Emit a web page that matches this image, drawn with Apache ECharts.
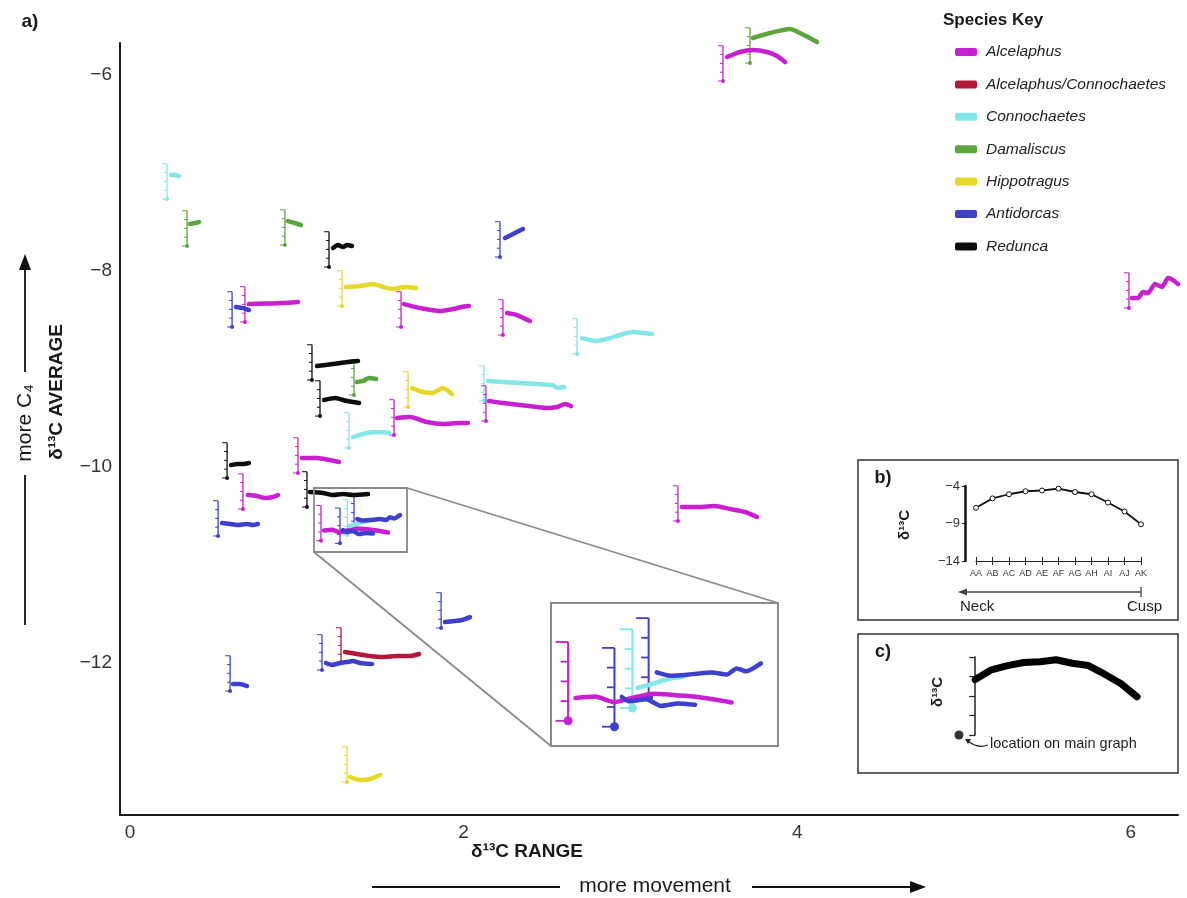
<!DOCTYPE html>
<html><head><meta charset="utf-8">
<script src="https://cdn.jsdelivr.net/npm/echarts@6/dist/echarts.min.js"></script>
<style>html,body{margin:0;padding:0;background:#fff}#c{width:1187px;height:898px}</style>
</head><body><div id="c"></div>
<script>
// ---------------- DATA ----------------
const species = ['Alcelaphus','Alcelaphus/Connochaetes','Connochaetes','Damaliscus','Hippotragus','Antidorcas','Redunca'];
const speciesColors = ['#c81fd1','#b3183a','#84e6e6','#5ba63c','#e6d826','#3d3fce','#0d0d0d'];
const xTicks = [0, 2, 4, 6];
const yTicks = [-6, -8, -10, -12];

// each glyph: species index, anchor = (d13C range, d13C average), and its drawn profile trace
const glyphSpecies = [2,3,3,6,4,5,0,0,0,2,5,6,3,6,4,2,0,2,0,0,6,0,5,6,0,5,2,5,5,5,1,4,0,3,0,0,5];
const glyphRange = [0.222,0.342,0.929,1.193,1.271,0.612,0.689,1.625,2.236,2.680,2.218,1.091,1.343,1.139,1.667,2.122,2.134,1.313,1.583,1.007,0.582,0.677,0.528,1.061,1.145,1.259,1.303,1.343,0.600,1.151,1.265,1.301,3.555,3.717,5.989,3.285,1.865];
const glyphAverage = [-7.265,-7.745,-7.735,-7.959,-8.357,-8.571,-8.520,-8.571,-8.653,-8.847,-7.857,-9.112,-9.265,-9.480,-9.388,-9.327,-9.531,-9.806,-9.673,-10.061,-10.112,-10.429,-10.704,-10.408,-10.752,-10.779,-10.694,-10.643,-12.286,-12.071,-12.000,-13.214,-6.061,-5.878,-8.378,-10.551,-11.643];
const glyphTraces = [
 [[0.246,-7.020],[0.270,-7.020],[0.294,-7.031]],
 [[0.360,-7.520],[0.390,-7.510],[0.414,-7.500]],
 [[0.947,-7.490],[0.989,-7.510],[1.025,-7.531]],
 [[1.217,-7.765],[1.247,-7.735],[1.277,-7.755],[1.301,-7.735],[1.331,-7.745]],
 [[1.295,-8.163],[1.379,-8.153],[1.457,-8.133],[1.517,-8.163],[1.577,-8.184],[1.649,-8.163],[1.715,-8.173]],
 [[0.635,-8.367],[0.677,-8.378],[0.713,-8.398]],
 [[0.713,-8.337],[0.809,-8.332],[0.911,-8.327],[1.007,-8.316]],
 [[1.643,-8.337],[1.739,-8.378],[1.859,-8.408],[1.936,-8.388],[1.990,-8.367],[2.032,-8.357]],
 [[2.260,-8.429],[2.320,-8.449],[2.398,-8.510]],
 [[2.710,-8.684],[2.800,-8.714],[2.878,-8.684],[2.956,-8.643],[3.016,-8.622],[3.076,-8.633],[3.129,-8.643]],
 [[2.248,-7.663],[2.296,-7.622],[2.356,-7.571]],
 [[1.121,-8.969],[1.217,-8.949],[1.301,-8.929],[1.367,-8.918]],
 [[1.361,-9.133],[1.397,-9.122],[1.433,-9.092],[1.475,-9.102]],
 [[1.163,-9.316],[1.229,-9.296],[1.301,-9.327],[1.373,-9.347]],
 [[1.691,-9.194],[1.757,-9.235],[1.811,-9.245],[1.876,-9.194],[1.930,-9.255]],
 [[2.146,-9.122],[2.236,-9.133],[2.338,-9.143],[2.440,-9.153],[2.530,-9.163],[2.566,-9.194],[2.602,-9.184]],
 [[2.152,-9.327],[2.236,-9.347],[2.338,-9.367],[2.440,-9.388],[2.500,-9.398],[2.560,-9.388],[2.608,-9.357],[2.644,-9.378]],
 [[1.337,-9.694],[1.421,-9.653],[1.499,-9.643],[1.553,-9.653]],
 [[1.601,-9.500],[1.679,-9.490],[1.781,-9.541],[1.876,-9.561],[1.978,-9.551],[2.026,-9.551]],
 [[1.031,-9.908],[1.121,-9.908],[1.199,-9.929],[1.253,-9.949]],
 [[0.606,-9.980],[0.647,-9.969],[0.677,-9.969],[0.713,-9.959]],
 [[0.707,-10.286],[0.761,-10.296],[0.809,-10.316],[0.857,-10.306],[0.887,-10.286]],
 [[0.552,-10.571],[0.600,-10.582],[0.647,-10.592],[0.701,-10.582],[0.737,-10.592],[0.767,-10.582]],
 [[1.079,-10.255],[1.157,-10.265],[1.217,-10.286],[1.277,-10.276],[1.337,-10.286],[1.427,-10.276]],
 [[1.163,-10.648],[1.211,-10.641],[1.259,-10.666],[1.301,-10.648],[1.355,-10.628],[1.433,-10.638],[1.481,-10.648],[1.547,-10.668]],
 [[1.277,-10.643],[1.295,-10.663],[1.337,-10.653],[1.373,-10.684],[1.415,-10.673],[1.457,-10.679]],
 [[1.316,-10.602],[1.355,-10.582],[1.391,-10.561],[1.427,-10.551]],
 [[1.363,-10.531],[1.397,-10.546],[1.439,-10.541],[1.499,-10.531],[1.535,-10.541],[1.559,-10.513],[1.583,-10.526],[1.619,-10.490]],
 [[0.618,-12.214],[0.659,-12.214],[0.701,-12.235]],
 [[1.175,-12.000],[1.211,-12.020],[1.259,-12.000],[1.301,-11.990],[1.337,-11.980],[1.379,-12.000],[1.451,-12.010]],
 [[1.289,-11.888],[1.361,-11.908],[1.439,-11.929],[1.517,-11.939],[1.601,-11.929],[1.679,-11.929],[1.733,-11.908]],
 [[1.319,-13.163],[1.379,-13.194],[1.439,-13.184],[1.499,-13.143]],
 [[3.579,-5.816],[3.657,-5.765],[3.735,-5.745],[3.819,-5.765],[3.879,-5.806],[3.927,-5.867]],
 [[3.735,-5.622],[3.837,-5.571],[3.957,-5.531],[4.017,-5.571],[4.119,-5.663]],
 [[6.007,-8.276],[6.043,-8.276],[6.073,-8.214],[6.103,-8.224],[6.145,-8.133],[6.187,-8.163],[6.223,-8.071],[6.253,-8.092],[6.283,-8.133]],
 [[3.309,-10.408],[3.417,-10.408],[3.507,-10.398],[3.597,-10.429],[3.687,-10.459],[3.759,-10.510]],
 [[1.888,-11.582],[1.948,-11.571],[1.990,-11.561],[2.038,-11.531]]
];
// zoomed region (range x average)
const insetRange = [1.103, 1.661];
const insetAverage = [-10.867, -10.214];
// panel b: example tooth profile
const profileLabels = ['AA','AB','AC','AD','AE','AF','AG','AH','AI','AJ','AK'];
const profileValues = [-6.9,-5.65,-5.1,-4.7,-4.6,-4.35,-4.8,-5.1,-6.2,-7.4,-9.1];
const profileTicks = [-4, -9, -14];
const keyTicks = [-14, -11.5, -9, -6.5, -4];

// ---------------- CHART ----------------
const RULER = 0.36;
const FONT = "'Liberation Sans', Arial, sans-serif";
const NARROW = "'Liberation Sans Narrow', 'Arial Narrow', 'Liberation Sans', Arial, sans-serif";
const minus = v => (v < 0 ? '\u2212' + Math.abs(v) : String(v));
const chart = echarts.init(document.getElementById('c'));

function makeRuler(k) {
  return function (params, api) {
    const x = api.value(0), y = api.value(1), s = api.value(2);
    const col = speciesColors[s];
    const b = api.coord([x, y]);
    const t = api.coord([x, y + RULER]);
    const ch = [{type:'line', shape:{x1:b[0], y1:b[1], x2:t[0], y2:t[1]}, style:{stroke:col, lineWidth:k > 1 ? 2 : 1.3}}];
    for (let j = 0; j < 5; j++) {
      const ty = b[1] + (t[1] - b[1]) * j / 4;
      const len = (j === 0 || j === 4 ? 5 : 3) * k;
      ch.push({type:'line', shape:{x1:b[0] - len, y1:ty, x2:b[0], y2:ty}, style:{stroke:col, lineWidth:k > 1 ? 1.8 : 1}});
    }
    ch.push({type:'circle', shape:{cx:b[0], cy:b[1], r:k > 1 ? 4.5 : 2}, style:{fill:col}});
    return {type:'group', children:ch};
  };
}

const rulerData = glyphRange.map((x, i) => [x, glyphAverage[i], glyphSpecies[i]]);
const inInset = i => glyphRange[i] >= insetRange[0] && glyphRange[i] <= insetRange[1] &&
                    glyphAverage[i] >= insetAverage[0] && glyphAverage[i] <= insetAverage[1];

const series = [];
series.push({type:'custom', name:'rulers', xAxisIndex:0, yAxisIndex:0, data:rulerData,
  renderItem:makeRuler(1), encode:{x:0, y:1}, z:2, silent:true, clip:false});
glyphTraces.forEach((tr, i) => {
  const col = speciesColors[glyphSpecies[i]];
  series.push({type:'line', name:species[glyphSpecies[i]], xAxisIndex:0, yAxisIndex:0, data:tr,
    symbol:'none', clip:false, smooth:0.2, z:3, silent:true,
    lineStyle:{color:col, width:4.5, cap:'round', join:'round'}, itemStyle:{color:col}});
});
// magnified inset
series.push({type:'custom', name:'insetRulers', xAxisIndex:1, yAxisIndex:1,
  data:rulerData.filter((d, i) => inInset(i)), renderItem:makeRuler(2.5), encode:{x:0, y:1}, z:4, silent:true, clip:true});
glyphTraces.forEach((tr, i) => {
  if (!inInset(i)) return;
  const col = speciesColors[glyphSpecies[i]];
  series.push({type:'line', name:species[glyphSpecies[i]], xAxisIndex:1, yAxisIndex:1, data:tr,
    symbol:'none', clip:true, smooth:0.2, z:5, silent:true,
    lineStyle:{color:col, width:4.5, cap:'round', join:'round'}, itemStyle:{color:col}});
});
// panel b
series.push({type:'line', name:'profile', xAxisIndex:2, yAxisIndex:2, data:profileValues,
  symbol:'circle', symbolSize:5, showAllSymbol:true, silent:true, z:5,
  lineStyle:{color:'#111', width:1.8}, itemStyle:{color:'#fff', borderColor:'#111', borderWidth:1}});
// panel c
series.push({type:'line', name:'key', xAxisIndex:4, yAxisIndex:3, data:profileValues.map((v, i) => [i, v]),
  symbol:'none', silent:true, z:5, clip:false, lineStyle:{color:'#000', width:7, cap:'round', join:'round'}});
series.push({type:'scatter', name:'keyDot', xAxisIndex:4, yAxisIndex:3, data:[[-1, -14]],
  symbolSize:9, silent:true, z:6, clip:false, itemStyle:{color:'#000'}});

const option = {
  animation:false,
  backgroundColor:'#fff',
  textStyle:{fontFamily:FONT},
  grid:[
    {left:120, top:43, right:9, bottom:83},
    {left:551, top:603, width:227, height:143, show:true, backgroundColor:'#fff', borderColor:'#8a8a8a', borderWidth:2, z:3},
    {left:976, top:486, width:165, height:75},
    {left:959, top:657, width:178, height:78}
  ],
  xAxis:[
    {type:'value', gridIndex:0, min:-0.06, max:6.283, splitLine:{show:false}, axisTick:{show:false},
     axisLine:{show:true, onZero:false, lineStyle:{color:'#1a1a1a', width:2}},
     axisLabel:{customValues:xTicks, formatter:minus, fontSize:19, color:'#333', fontFamily:NARROW, margin:8}},
    {type:'value', gridIndex:1, min:insetRange[0], max:insetRange[1], show:false},
    {type:'category', gridIndex:2, data:profileLabels, boundaryGap:false,
     axisLine:{lineStyle:{color:'#222', width:1.2}}, axisTick:{show:true, inside:true, length:4, interval:0, lineStyle:{color:'#222'}},
     axisLabel:{fontSize:9, color:'#333', margin:8, interval:0}},
    {type:'category', gridIndex:2, data:profileLabels, boundaryGap:false, position:'bottom',
     axisLine:{show:false}, axisTick:{show:true, length:4, interval:0, lineStyle:{color:'#222'}}, axisLabel:{show:false}},
    {type:'value', gridIndex:3, min:-1, max:10, show:false}
  ],
  yAxis:[
    {type:'value', gridIndex:0, min:-13.551, max:-5.673, splitLine:{show:false}, axisTick:{show:false},
     axisLine:{show:true, onZero:false, lineStyle:{color:'#1a1a1a', width:2}},
     axisLabel:{customValues:yTicks, formatter:minus, fontSize:19, color:'#333', fontFamily:NARROW, margin:8}},
    {type:'value', gridIndex:1, min:insetAverage[0], max:insetAverage[1], show:false},
    {type:'value', gridIndex:2, min:-14, max:-4, offset:11, splitLine:{show:false},
     axisLine:{show:true, lineStyle:{color:'#111', width:2.5}},
     axisTick:{show:true, customValues:profileTicks, length:3, lineStyle:{color:'#111'}},
     axisLabel:{customValues:profileTicks, formatter:minus, fontSize:13, color:'#333', margin:5}},
    {type:'value', gridIndex:3, min:-14, max:-4, splitLine:{show:false},
     axisLine:{show:true, lineStyle:{color:'#222', width:1.5}},
     axisTick:{show:true, customValues:keyTicks, length:6, lineStyle:{color:'#222', width:1.2}},
     axisLabel:{show:false}}
  ],
  legend:{data:species, orient:'vertical', left:950, top:38, itemWidth:22, itemHeight:8, itemGap:14.4,
    icon:'roundRect', selectedMode:false,
    textStyle:{fontStyle:'italic', fontSize:15.5, color:'#222', fontFamily:FONT, lineHeight:18, padding:[0,0,0,4]}},
  series:series
};
chart.setOption(option);

// annotations (frames, labels, arrows) -- all in one graphic array
const p1 = chart.convertToPixel({xAxisIndex:0, yAxisIndex:0}, [insetRange[0], insetAverage[1]]);
const p2 = chart.convertToPixel({xAxisIndex:0, yAxisIndex:0}, [insetRange[1], insetAverage[0]]);
const big = {x:551, y:603, w:227, h:143};
const T = (x, y, text, font, extra, rot) => ({type:'text', x:x, y:y, rotation:rot || 0, silent:true, z:20,
  style:Object.assign({text:text, font:font, fill:'#1a1a1a', align:'center', verticalAlign:'middle'}, extra || {})});
const L = (x1, y1, x2, y2, col, w, z) => ({type:'line', silent:true, z:z || 20, shape:{x1:x1, y1:y1, x2:x2, y2:y2}, style:{stroke:col || '#111', lineWidth:w || 1.6}});
const P = (pts, col) => ({type:'polygon', silent:true, z:20, shape:{points:pts}, style:{fill:col || '#111'}});

chart.setOption({graphic:[
  {type:'rect', silent:true, z:10, shape:{x:p1[0], y:p1[1], width:p2[0]-p1[0], height:p2[1]-p1[1]}, style:{fill:'none', stroke:'#8a8a8a', lineWidth:1.8}},
  L(p2[0], p1[1], big.x + big.w, big.y, '#8a8a8a', 1.8, 1),
  L(p1[0], p2[1], big.x, big.y + big.h, '#8a8a8a', 1.8, 1),
  T(30, 22, 'a)', 'bold 19px ' + FONT),
  T(57, 392, 'δ¹³C AVERAGE', 'bold 19px ' + NARROW, null, Math.PI/2),
  T(25, 423, 'more C₄', '21px ' + NARROW, null, Math.PI/2),
  L(25, 625, 25, 475, '#111', 1.8), L(25, 372, 25, 266, '#111', 1.8), P([[25,254],[19,270],[31,270]]),
  L(372, 887, 560, 887, '#111', 1.8), L(752, 887, 912, 887, '#111', 1.8), P([[926,887],[910,881],[910,893]]),
  T(527, 852, 'δ¹³C RANGE', 'bold 19px ' + NARROW),
  T(655, 886, 'more movement', '21px ' + NARROW),
  T(943, 20, 'Species Key', 'bold 17px ' + FONT, {align:'left'}),
  {type:'rect', silent:true, z:20, shape:{x:858, y:460, width:320, height:160}, style:{fill:'none', stroke:'#333', lineWidth:1.5}},
  {type:'rect', silent:true, z:20, shape:{x:858, y:634, width:320, height:139}, style:{fill:'none', stroke:'#333', lineWidth:1.5}},
  T(883, 478, 'b)', 'bold 18px ' + FONT),
  T(883, 652, 'c)', 'bold 18px ' + FONT),
  T(905, 525, 'δ¹³C', 'bold 15px ' + FONT, null, Math.PI/2),
  T(938, 692, 'δ¹³C', 'bold 15px ' + FONT, null, Math.PI/2),
  L(962, 592, 1141, 592, '#444', 1.3), L(1141, 587, 1141, 597, '#444', 1.3), P([[958,592],[967,588.5],[967,595.5]], '#444'),
  T(960, 607, 'Neck', '15px ' + FONT, {align:'left', fill:'#222'}),
  T(1162, 607, 'Cusp', '15px ' + FONT, {align:'right', fill:'#222'}),
  T(990, 744, 'location on main graph', '14.5px ' + FONT, {align:'left', fill:'#222'}),
  {type:'bezierCurve', silent:true, z:20, shape:{x1:988, y1:745, x2:968, y2:741, cpx1:978, cpy1:749}, style:{stroke:'#222', lineWidth:1.2, fill:'none'}},
  P([[965,739],[971,739],[968,744]], '#222')
]});
</script></body></html>
